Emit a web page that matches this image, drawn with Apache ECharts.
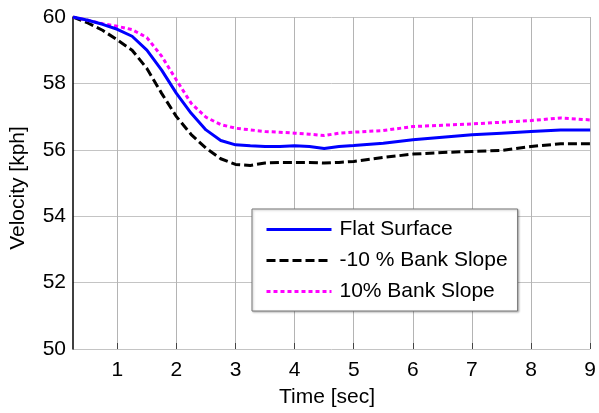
<!DOCTYPE html>
<html>
<head>
<meta charset="utf-8">
<script src="https://cdn.jsdelivr.net/npm/echarts@6/dist/echarts.min.js"></script>
<style>
  html, body { margin: 0; padding: 0; background: #fff; }
  #chart { width: 599px; height: 413px; }
</style>
</head>
<body>
<div id="chart"></div>
<script>
// Time samples [sec]
const timeSec = [0.25, 0.5, 0.75, 1.0, 1.25, 1.5, 1.75, 2.0, 2.25, 2.5, 2.75, 3.0, 3.25, 3.5, 3.75,
  4.0, 4.25, 4.5, 4.75, 5.0, 5.5, 6.0, 6.5, 7.0, 7.5, 8.0, 8.5, 9.0];

// Vehicle velocity [kph] for each road condition
const flatSurface = [60.0, 59.9, 59.78, 59.63, 59.42, 59.0, 58.4, 57.7, 57.1, 56.6, 56.28, 56.15, 56.12, 56.1, 56.1,
  56.12, 56.1, 56.04, 56.1, 56.13, 56.2, 56.3, 56.38, 56.45, 56.5, 56.55, 56.6, 56.6];
const negBankSlope = [60.0, 59.82, 59.6, 59.31, 59.0, 58.45, 57.7, 57.0, 56.46, 56.05, 55.73, 55.56, 55.53, 55.6, 55.62,
  55.62, 55.62, 55.6, 55.62, 55.65, 55.77, 55.87, 55.92, 55.95, 55.98, 56.1, 56.18, 56.18];
const posBankSlope = [60.0, 59.9, 59.8, 59.72, 59.62, 59.38, 58.82, 58.1, 57.4, 56.98, 56.76, 56.65, 56.6, 56.55, 56.53,
  56.5, 56.47, 56.43, 56.5, 56.53, 56.58, 56.7, 56.74, 56.78, 56.83, 56.88, 56.96, 56.9];

// Axis ticks
const xTicks = [1, 2, 3, 4, 5, 6, 7, 8, 9];
const yTicks = [50, 52, 54, 56, 58, 60];

const seriesNames = ['Flat Surface', '-10 % Bank Slope', '10% Bank Slope'];

const pairs = arr => timeSec.map((t, i) => [t, arr[i]]);

const FONT = 'Liberation Sans, Arial, sans-serif';
const FS = 21;
const chart = echarts.init(document.getElementById('chart'), null, { renderer: 'canvas' });

chart.setOption({
  animation: false,
  backgroundColor: '#ffffff',
  grid: { left: 72, right: 8, top: 17, bottom: 61, containLabel: false },
  xAxis: {
    type: 'value',
    min: 0.25,
    max: 9,
    name: 'Time [sec]',
    nameLocation: 'middle',
    nameGap: 38,
    nameTextStyle: { fontFamily: FONT, fontSize: FS, color: '#000', padding: [0, 9, 0, 0] },
    axisLine: { show: false },
    axisTick: { show: true, inside: true, length: 6, customValues: xTicks, lineStyle: { color: '#444', width: 1 } },
    axisLabel: { customValues: xTicks, fontFamily: FONT, fontSize: FS, color: '#000', margin: 11 },
    splitLine: { show: true, lineStyle: { color: '#b4b4b4', width: 1 } }
  },
  yAxis: {
    type: 'value',
    min: 50,
    max: 60,
    interval: 2,
    name: 'Velocity [kph]',
    nameLocation: 'middle',
    nameGap: 44,
    nameTextStyle: { fontFamily: FONT, fontSize: FS, color: '#000', padding: [0, 10, 0, 0] },
    axisLine: { show: true, lineStyle: { color: '#000', width: 1.5 } },
    axisTick: { show: false },
    axisLabel: { fontFamily: FONT, fontSize: FS, color: '#000', margin: 7,
      formatter: v => (yTicks.includes(v) ? String(v) : '') },
    splitLine: { show: true, lineStyle: { color: '#c4c4c4', width: 1 } }
  },
  legend: {
    orient: 'vertical',
    left: 252,
    top: 209,
    data: seriesNames,
    itemWidth: 65,
    itemHeight: 20,
    itemGap: 10,
    padding: [10, 10, 9, 13],
    backgroundColor: '#fff',
    borderColor: '#777',
    borderWidth: 1,
    borderRadius: 0,
    shadowBlur: 2,
    shadowColor: 'rgba(0,0,0,0.25)',
    shadowOffsetX: 1,
    shadowOffsetY: 1,
    itemStyle: { opacity: 0 },
    lineStyle: { width: 3 },
    textStyle: { fontFamily: FONT, fontSize: FS, color: '#000', padding: [0, 0, 0, 3] }
  },
  series: [
    {
      name: seriesNames[0], type: 'line', data: pairs(flatSurface),
      symbol: 'none', lineStyle: { color: '#0000ff', width: 3, type: 'solid' },
      itemStyle: { color: '#0000ff' }, z: 3
    },
    {
      name: seriesNames[1], type: 'line', data: pairs(negBankSlope),
      symbol: 'none', lineStyle: { color: '#000000', width: 3, type: [9, 4] },
      itemStyle: { color: '#000000' }, z: 2
    },
    {
      name: seriesNames[2], type: 'line', data: pairs(posBankSlope),
      symbol: 'none', lineStyle: { color: '#ff00ff', width: 3, type: [4, 3] },
      itemStyle: { color: '#ff00ff' }, z: 2
    }
  ]
});
</script>
</body>
</html>
